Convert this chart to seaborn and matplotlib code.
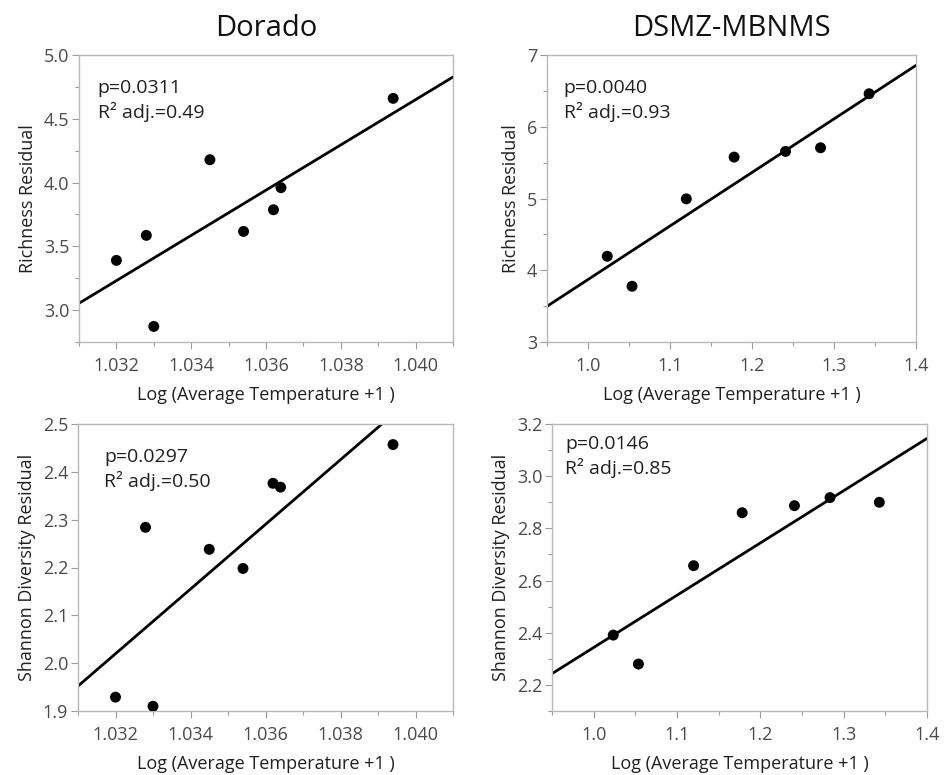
import numpy as np
import pandas as pd
import matplotlib
matplotlib.use("Agg")
import matplotlib.pyplot as plt
from matplotlib.ticker import MultipleLocator, FormatStrFormatter
import seaborn as sns

# ---------------- data ----------------
dorado_temp = [1.0320, 1.0328, 1.0330, 1.0345, 1.0354, 1.0362, 1.0364, 1.0394]
dorado_richness = [3.39, 3.586, 2.872, 4.179, 3.617, 3.787, 3.960, 4.660]
dorado_shannon = [1.929, 2.284, 1.910, 2.238, 2.198, 2.376, 2.368, 2.457]

dsmz_temp = [1.0235, 1.0537, 1.1199, 1.1782, 1.2409, 1.2836, 1.3428]
dsmz_richness = [4.195, 3.777, 4.995, 5.577, 5.656, 5.707, 6.460]
dsmz_shannon = [2.391, 2.280, 2.657, 2.860, 2.887, 2.918, 2.900]

col_titles = ["Dorado", "DSMZ-MBNMS"]
x_label = "Log (Average Temperature +1 )"
y_labels = ["Richness Residual", "Shannon Diversity Residual"]
stats_text = [["p=0.0311\nR\u00b2 adj.=0.49", "p=0.0040\nR\u00b2 adj.=0.93"],
              ["p=0.0297\nR\u00b2 adj.=0.50", "p=0.0146\nR\u00b2 adj.=0.85"]]

# ---------------- style ----------------
sns.set_theme(style="white")
plt.rcParams["font.family"] = ["Open Sans", "DejaVu Sans"]

W, H = 949, 775
fig = plt.figure(figsize=(W / 100, H / 100), dpi=100)

def add_axes_px(left, top, right, bottom):
    return fig.add_axes([left / W, 1 - bottom / H, (right - left) / W, (bottom - top) / H])

boxes = [[(79, 55, 453, 342), (547, 55, 916, 342)],
         [(78, 424, 453, 711), (552, 424, 927, 711)]]
text_pos = [[(0.05, 0.915), (0.045, 0.915)],
            [(0.07, 0.915), (0.035, 0.96)]]

panels = [
    [dict(x=dorado_temp, y=dorado_richness, xlim=(1.031, 1.041), ylim=(2.75, 5.0),
          xmaj=0.002, xmin=0.001, ymaj=0.5, ymin=0.25, xfmt="%.3f", yfmt="%.1f"),
     dict(x=dsmz_temp, y=dsmz_richness, xlim=(0.95, 1.4), ylim=(3, 7),
          xmaj=0.1, xmin=0.05, ymaj=1, ymin=0.5, xfmt="%.1f", yfmt="%d")],
    [dict(x=dorado_temp, y=dorado_shannon, xlim=(1.031, 1.041), ylim=(1.9, 2.5),
          xmaj=0.002, xmin=0.001, ymaj=0.1, ymin=None, xfmt="%.3f", yfmt="%.1f"),
     dict(x=dsmz_temp, y=dsmz_shannon, xlim=(0.95, 1.4), ylim=(2.1, 3.2),
          xmaj=0.1, xmin=0.05, ymaj=0.2, ymin=0.1, xfmt="%.1f", yfmt="%.1f")],
]

spine_col = "#b8b8b8"
tick_col = "#9a9a9a"
label_col = "#4a4a4a"

for r in range(2):
    for c in range(2):
        p = panels[r][c]
        ax = add_axes_px(*boxes[r][c])
        ax.set_xlim(*p["xlim"])
        ax.set_ylim(*p["ylim"])
        df = pd.DataFrame({"temp": p["x"], "val": p["y"]})
        sns.regplot(data=df, x="temp", y="val", ax=ax, ci=None, truncate=False,
                    scatter_kws=dict(s=62, color="black", edgecolor="none", alpha=1, zorder=3),
                    line_kws=dict(color="black", lw=2.0, zorder=2))
        ax.set_xlim(*p["xlim"])
        ax.set_ylim(*p["ylim"])
        ax.xaxis.set_major_locator(MultipleLocator(p["xmaj"]))
        ax.xaxis.set_minor_locator(MultipleLocator(p["xmin"]))
        ax.yaxis.set_major_locator(MultipleLocator(p["ymaj"]))
        if p["ymin"]:
            ax.yaxis.set_minor_locator(MultipleLocator(p["ymin"]))
        ax.xaxis.set_major_formatter(FormatStrFormatter(p["xfmt"]))
        ax.yaxis.set_major_formatter(FormatStrFormatter(p["yfmt"]))
        ax.tick_params(which="both", direction="out", color=tick_col, width=0.8)
        ax.tick_params(which="major", length=5, labelsize=13, labelcolor=label_col, pad=2)
        ax.tick_params(which="minor", length=3)
        ax.tick_params(axis="x", which="major", pad=6)
        ax.tick_params(axis="x", which="both", bottom=True)
        ax.tick_params(axis="y", which="both", left=True)
        for s in ax.spines.values():
            s.set_color(spine_col)
            s.set_linewidth(1.0)
        ax.set_xlabel(x_label, fontsize=13, color="#202020", labelpad=8)
        ax.set_ylabel(y_labels[r], fontsize=13, color="#202020", labelpad=5)
        tx, ty = text_pos[r][c]
        ax.text(tx, ty, stats_text[r][c], transform=ax.transAxes, ha="left", va="top",
                fontsize=14, color="#202020", linespacing=1.3)
        if r == 0:
            ax.set_title(col_titles[c], fontsize=21, color="#111111", pad=14)

fig.savefig("out.png", dpi=100)
